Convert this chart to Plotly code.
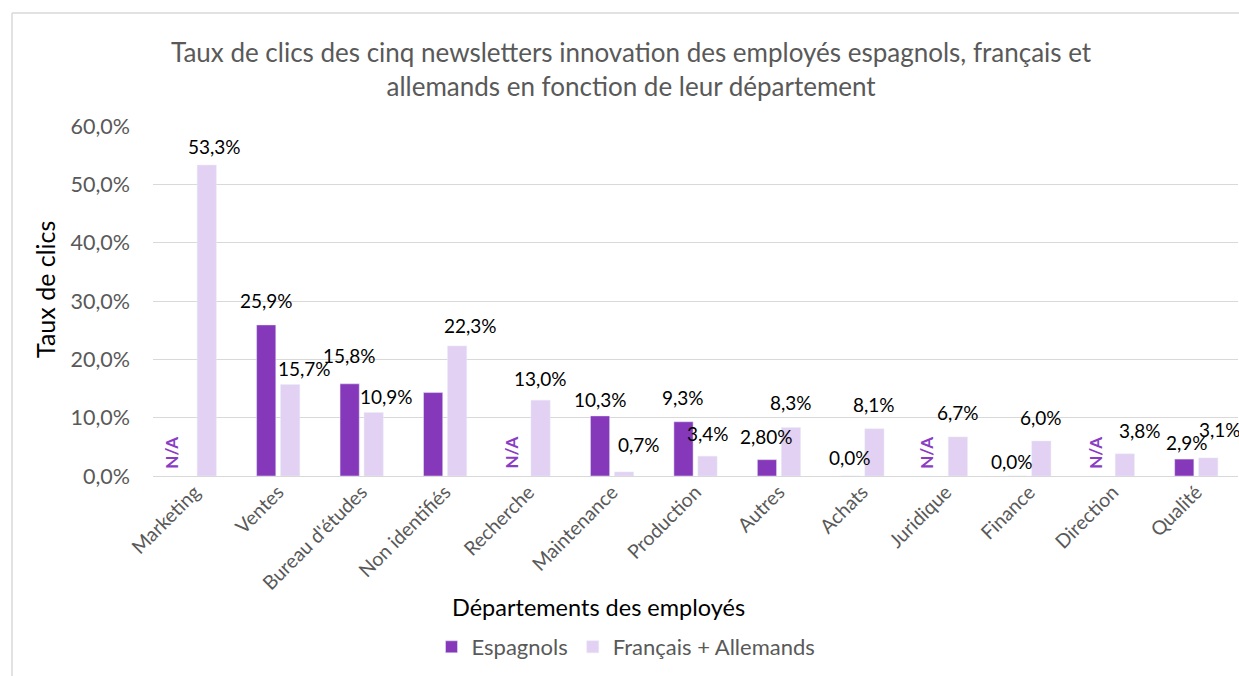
import plotly.graph_objects as go

# Departments and click-through rates (%)
departements = ["Marketing", "Ventes", "Bureau d'études", "Non identifiés", "Recherche",
                "Maintenance", "Production", "Autres", "Achats", "Juridique",
                "Finance", "Direction", "Qualité"]
espagnols = [None, 25.9, 15.8, 14.3, None, 10.3, 9.3, 2.8, 0.0, None, 0.0, None, 2.9]
fr_all = [53.3, 15.7, 10.9, 22.3, 13.0, 0.7, 3.4, 8.3, 8.1, 6.7, 6.0, 3.8, 3.1]
# Label texts as displayed (None = no label shown)
lab_esp = [None, "25,9%", "15,8%", None, None, "10,3%", "9,3%", "2,80%", "0,0%", None, "0,0%", None, "2,9%"]
lab_fr = ["53,3%", "15,7%", "10,9%", "22,3%", "13,0%", "0,7%", "3,4%", "8,3%", "8,1%",
          "6,7%", "6,0%", "3,8%", "3,1%"]
y_ticks = [0, 10, 20, 30, 40, 50, 60]
y_ticktext = ["0,0%", "10,0%", "20,0%", "30,0%", "40,0%", "50,0%", "60,0%"]

# Label offsets in pixels (dx, dy above bar top), placed by hand
off_esp = [None, (0, 24), (0, 28), None, None, (0, 16), (0, 24), (0, 23), (0, 19), None, (-5, 15), None, (3, 17)]
off_fr = [(8, 19), (14, 16), (13, 16), (13, 20), (0, 22), (15, 27), (0, 23), (0, 25), (0, 24),
          (0, 24), (0, 24), (15, 23), (12, 28)]
na_dx = [-12, None, None, None, -6, None, None, None, None, -8, None, -6, None]

DARK = "#8538B9"
LIGHT = "#E2D1F2"
FONT = "Lato"

W, H = 1239, 676
ML, MR, MT, MB = 153, 1, 126, 200
PW, PH = W - ML - MR, H - MT - MB

def px_x(px):
    return (px - ML) / PW

def px_y(py):
    return (H - MB - py) / PH

idx = list(range(len(departements)))
fig = go.Figure()
fig.add_trace(go.Bar(name="Espagnols", x=idx, y=espagnols, marker_color=DARK))
fig.add_trace(go.Bar(name="Français + Allemands", x=idx, y=fr_all, marker_color=LIGHT))

ann = []
BAR_OFF = 0.144  # half-slot shift of each bar inside its group (category units)
for i in idx:
    if lab_esp[i] is not None:
        dx, dy = off_esp[i]
        ann.append(dict(x=i - BAR_OFF, y=espagnols[i], xref="x", yref="y", text=lab_esp[i],
                        showarrow=False, xshift=dx, yshift=dy,
                        font=dict(family=FONT, size=19, color="#000000")))
    if espagnols[i] is None:
        ann.append(dict(x=i - BAR_OFF, y=0, xref="x", yref="y", text="<b>N/A</b>",
                        showarrow=False, textangle=-90, xshift=na_dx[i], yshift=23,
                        font=dict(family=FONT, size=17, color="#8A3CC4")))
    dx, dy = off_fr[i]
    ann.append(dict(x=i + BAR_OFF, y=fr_all[i], xref="x", yref="y", text=lab_fr[i],
                    showarrow=False, xshift=dx, yshift=dy,
                    font=dict(family=FONT, size=19, color="#000000")))

# Title, axis titles
ann.append(dict(x=px_x(631), y=px_y(69), xref="paper", yref="paper", showarrow=False,
                xanchor="center", yanchor="middle",
                text="Taux de clics des cinq newsletters innovation des employés espagnols, français et<br>allemands en fonction de leur département",
                font=dict(family=FONT, size=26, color="#595959"), align="center"))
ann.append(dict(x=px_x(45), y=px_y(290), xref="paper", yref="paper", showarrow=False,
                xanchor="center", yanchor="middle",
                text="Taux de clics", textangle=-90,
                font=dict(family=FONT, size=25, color="#000000")))
ann.append(dict(x=px_x(598), y=px_y(607), xref="paper", yref="paper", showarrow=False,
                xanchor="center", yanchor="middle",
                text="Départements des employés",
                font=dict(family=FONT, size=23.5, color="#000000")))

fig.update_layout(
    width=W, height=H,
    margin=dict(l=ML, r=MR, t=MT, b=MB),
    paper_bgcolor="white", plot_bgcolor="white",
    barmode="group", bargap=0.425, bargroupgap=0.2,
    annotations=ann,
    showlegend=True,
    legend=dict(orientation="h", xref="container", yref="container",
                x=626 / W, y=1 - 647 / H, xanchor="center", yanchor="middle",
                font=dict(family=FONT, size=22, color="#595959"),
                itemwidth=30, itemclick=False, traceorder="normal"),
    shapes=[
        dict(type="line", xref="paper", yref="paper", x0=px_x(12), x1=px_x(1245),
             y0=px_y(13), y1=px_y(13), line=dict(color="#D9D9D9", width=1.5)),
        dict(type="line", xref="paper", yref="paper", x0=px_x(12), x1=px_x(12),
             y0=px_y(13), y1=px_y(700), line=dict(color="#D9D9D9", width=1.5)),
    ],
)
fig.update_xaxes(tickvals=idx, ticktext=departements, tickangle=-45, range=[-0.5, 12.5],
                 showgrid=False, showline=False, zeroline=False, ticks="",
                 tickfont=dict(family=FONT, size=19.5, color="#595959"))
fig.update_yaxes(range=[0, 60], tickvals=y_ticks, ticktext=y_ticktext,
                 showgrid=True, gridcolor="#D9D9D9", gridwidth=1,
                 zeroline=True, zerolinecolor="#D9D9D9", zerolinewidth=1,
                 showline=False, ticks="", ticklabelstandoff=22,
                 tickfont=dict(family=FONT, size=21.5, color="#595959"))

fig.write_html("out.html")
